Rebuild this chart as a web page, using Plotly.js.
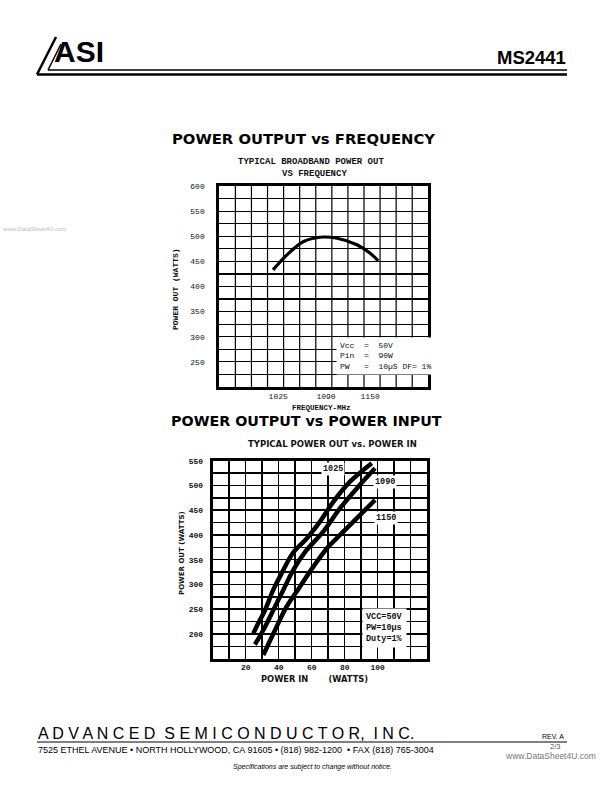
<!DOCTYPE html>
<html>
<head>
<meta charset="utf-8">
<script src="https://cdn.plot.ly/plotly-3.0.1.min.js"></script>
<style>body{margin:0;padding:0;background:#fff}#chart{width:612px;height:792px}</style>
</head>
<body>
<div id="chart"></div>
<script>
// ---- Chart 1: Typical broadband power out vs frequency ----
const freqMHz = [1018, 1037, 1059, 1082, 1105, 1132, 1150, 1161];
const powerOutVsFreq = [433, 463, 489, 498, 496, 483, 466, 451];
const freqTicks = [1025, 1090, 1150];
const freqPowerTicks = [250, 300, 350, 400, 450, 500, 550, 600];

// ---- Chart 2: Typical power out vs power in ----
const pin1025 = [24.6, 27.6, 31.7, 36.7, 41.8, 48.8, 57, 65, 73.1, 83.2, 96.4];
const pout1025 = [201, 221.5, 248, 289, 322.5, 364.5, 393, 427, 467, 507.6, 545];
const pin1090 = [25.6, 30.7, 36.7, 42.8, 48.8, 56.5, 67, 77.2, 87.3, 98.4];
const pout1090 = [178.7, 208, 248, 289, 329, 367.6, 406.6, 454, 494, 534.6];
const pin1150 = [30.7, 37.8, 44.8, 52.9, 61, 69.9, 77.2, 87.3, 98.4];
const pout1150 = [157.5, 208, 255, 295.5, 336, 375.7, 400, 433.6, 470.6];
const pinTicks = [20, 40, 60, 80, 100];
const pinPowerTicks = [200, 250, 300, 350, 400, 450, 500, 550];
const seriesLabels = ['1025', '1090', '1150'];

const W = 612, H = 792;
const px = x => x / W;
const py = y => 1 - y / H;

const mono = 'Liberation Mono, Courier New, monospace';
const sans = 'Liberation Sans, Arial, sans-serif';
const dejavu = 'DejaVu Sans, sans-serif';

const traces = [
  {x: freqMHz, y: powerOutVsFreq, xaxis: 'x', yaxis: 'y', mode: 'lines',
   line: {color: '#000', width: 3.2, shape: 'spline'}, hoverinfo: 'skip'},
  {x: pin1025, y: pout1025, xaxis: 'x2', yaxis: 'y2', mode: 'lines', name: seriesLabels[0],
   line: {color: '#000', width: 4.5, shape: 'spline'}},
  {x: pin1090, y: pout1090, xaxis: 'x2', yaxis: 'y2', mode: 'lines', name: seriesLabels[1],
   line: {color: '#000', width: 4.5, shape: 'spline'}},
  {x: pin1150, y: pout1150, xaxis: 'x2', yaxis: 'y2', mode: 'lines', name: seriesLabels[2],
   line: {color: '#000', width: 4.5, shape: 'spline'}}
];

const topX0 = 945, topX1 = 1229, topCols = 13;
const axBase = {
  showline: true, mirror: true, linecolor: '#000', linewidth: 3,
  ticks: '', zeroline: false, gridcolor: '#000', gridwidth: 1.2,
  fixedrange: true
};

// vertical grid of the frequency chart: 13 evenly spaced columns (grid, not data)
const freqGrid = [];
for (let i = 1; i < topCols; i++) {
  const gx = topX0 + i * (topX1 - topX0) / topCols;
  freqGrid.push({type: 'line', xref: 'x', yref: 'y domain', x0: gx, x1: gx, y0: 0, y1: 1,
                 layer: 'below', line: {color: '#000', width: 1.2}});
}

const layout = {
  width: W, height: H, autosize: false,
  margin: {l: 0, r: 0, t: 0, b: 0},
  paper_bgcolor: '#fff', plot_bgcolor: '#fff',
  showlegend: false,
  xaxis: Object.assign({}, axBase, {
    domain: [px(219.3), px(428.3)], range: [topX0, topX1], anchor: 'y',
    tickmode: 'array', tickvals: freqTicks, ticktext: freqTicks.map(String),
    showgrid: false, ticklabelstandoff: -1,
    tickfont: {family: mono, size: 8, color: '#111'}
  }),
  yaxis: Object.assign({}, axBase, {
    domain: [py(387), py(186)], range: [200, 600], anchor: 'x',
    tickmode: 'array', tickvals: freqPowerTicks, ticktext: freqPowerTicks.map(String),
    showgrid: true, ticklabelstandoff: 10,
    tickfont: {family: mono, size: 8, color: '#111'},
    minor: {tick0: 200, dtick: 25, showgrid: true, gridcolor: '#000', gridwidth: 1.2, ticklen: 0}
  }),
  xaxis2: Object.assign({}, axBase, {
    domain: [px(212.7), px(427.2)], range: [0, 130], anchor: 'y2',
    tickmode: 'array', tickvals: pinTicks, ticktext: pinTicks.map(String),
    showgrid: true, gridwidth: 1.5, ticklabelstandoff: -1,
    tickfont: {family: mono, size: 8, color: '#111', weight: 'bold'},
    minor: {tick0: 0, dtick: 10, showgrid: true, gridcolor: '#000', gridwidth: 1.5, ticklen: 0}
  }),
  yaxis2: Object.assign({}, axBase, {
    domain: [py(658.7), py(460.7)], range: [150, 550], anchor: 'x2',
    tickmode: 'array', tickvals: pinPowerTicks, ticktext: pinPowerTicks.map(String),
    showgrid: true, gridwidth: 1.5, ticklabelstandoff: 5,
    tickfont: {family: mono, size: 8, color: '#111', weight: 'bold'},
    minor: {tick0: 150, dtick: 25, showgrid: true, gridcolor: '#000', gridwidth: 1.5, ticklen: 0}
  }),
  shapes: freqGrid.concat([
    // header rules
    {type: 'line', xref: 'paper', yref: 'paper', x0: px(48), x1: px(567), y0: py(70), y1: py(70), line: {color: '#000', width: 1.5}},
    {type: 'line', xref: 'paper', yref: 'paper', x0: px(37), x1: px(567), y0: py(74.5), y1: py(74.5), line: {color: '#000', width: 2.5}},
    {type: 'line', xref: 'paper', yref: 'paper', x0: px(37), x1: px(56), y0: py(74.5), y1: py(37), line: {color: '#000', width: 2.5}},
    {type: 'line', xref: 'paper', yref: 'paper', x0: px(48), x1: px(61), y0: py(70), y1: py(44), line: {color: '#000', width: 1.5}},
    // footer rule
    {type: 'line', xref: 'paper', yref: 'paper', x0: px(37), x1: px(567), y0: py(742), y1: py(742), line: {color: '#000', width: 1}}
  ]),
  annotations: [
    // header
    {xref: 'paper', yref: 'paper', x: px(52), y: py(51), xanchor: 'left', yanchor: 'middle', showarrow: false,
     text: '<b>ASI</b>', font: {family: sans, size: 30, color: '#000'}},
    {xref: 'paper', yref: 'paper', x: px(568), y: py(58), xanchor: 'right', yanchor: 'middle', showarrow: false,
     text: '<b>MS2441</b>', font: {family: sans, size: 18.5, color: '#000'}},
    {xref: 'paper', yref: 'paper', x: px(0), y: py(229), xanchor: 'left', yanchor: 'middle', showarrow: false,
     text: 'www.DataSheet4U.com', font: {family: sans, size: 6, color: '#bbb'}},
    // chart 1 titles
    {xref: 'paper', yref: 'paper', x: px(303), y: py(138), xanchor: 'center', yanchor: 'middle', showarrow: false,
     text: '<b>POWER OUTPUT vs FREQUENCY</b>', font: {family: dejavu, size: 14.8, color: '#000'}},
    {xref: 'paper', yref: 'paper', x: px(311), y: py(162), xanchor: 'center', yanchor: 'middle', showarrow: false,
     text: '<b>TYPICAL BROADBAND POWER OUT</b>', font: {family: mono, size: 9, color: '#111'}},
    {xref: 'paper', yref: 'paper', x: px(314), y: py(174), xanchor: 'center', yanchor: 'middle', showarrow: false,
     text: '<b>VS FREQUENCY</b>', font: {family: mono, size: 9, color: '#111'}},
    {xref: 'paper', yref: 'paper', x: px(176), y: py(289), xanchor: 'center', yanchor: 'middle', showarrow: false, textangle: -90,
     text: '<b>POWER OUT (WATTS)</b>', font: {family: mono, size: 8, color: '#111'}},
    {xref: 'paper', yref: 'paper', x: px(321), y: py(408), xanchor: 'center', yanchor: 'middle', showarrow: false,
     text: '<b>FREQUENCY-MHz</b>', font: {family: mono, size: 7.5, color: '#111'}},
    {xref: 'x', yref: 'y', x: 1104, y: 299, xanchor: 'left', yanchor: 'top', showarrow: false, align: 'left',
     bgcolor: '#fff', borderpad: 3,
     text: 'Vcc  =  50V<br>Pin  =  90W<br>PW   =  10\u00b5S DF= 1%', font: {family: mono, size: 8, color: '#111'}},
    // chart 2 titles
    {xref: 'paper', yref: 'paper', x: px(306), y: py(421), xanchor: 'center', yanchor: 'middle', showarrow: false,
     text: '<b>POWER OUTPUT vs POWER INPUT</b>', font: {family: dejavu, size: 14.3, color: '#000'}},
    {xref: 'paper', yref: 'paper', x: px(332), y: py(444), xanchor: 'center', yanchor: 'middle', showarrow: false,
     text: '<b>TYPICAL POWER OUT vs. POWER IN</b>', font: {family: dejavu, size: 8.5, color: '#111'}},
    {xref: 'paper', yref: 'paper', x: px(182), y: py(553), xanchor: 'center', yanchor: 'middle', showarrow: false, textangle: -90,
     text: '<b>POWER OUT (WATTS)</b>', font: {family: dejavu, size: 7, color: '#111'}},
    {xref: 'paper', yref: 'paper', x: px(315), y: py(679), xanchor: 'center', yanchor: 'middle', showarrow: false,
     text: '<b>POWER IN&nbsp;&nbsp;&nbsp;&nbsp;&nbsp;&nbsp;&nbsp;(WATTS)</b>', font: {family: dejavu, size: 8.3, color: '#111'}},
    {xref: 'x2', yref: 'y2', x: 73, y: 533, xanchor: 'center', yanchor: 'middle', showarrow: false, bgcolor: '#fff', borderpad: 1,
     text: '<b>' + seriesLabels[0] + '</b>', font: {family: mono, size: 8.5, color: '#111'}},
    {xref: 'x2', yref: 'y2', x: 104.5, y: 506, xanchor: 'center', yanchor: 'middle', showarrow: false, bgcolor: '#fff', borderpad: 1,
     text: '<b>' + seriesLabels[1] + '</b>', font: {family: mono, size: 8.5, color: '#111'}},
    {xref: 'x2', yref: 'y2', x: 105, y: 435, xanchor: 'center', yanchor: 'middle', showarrow: false, bgcolor: '#fff', borderpad: 1,
     text: '<b>' + seriesLabels[2] + '</b>', font: {family: mono, size: 8.5, color: '#111'}},
    {xref: 'x2', yref: 'y2', x: 90.5, y: 212, xanchor: 'left', yanchor: 'middle', showarrow: false, align: 'left',
     bgcolor: '#fff', borderpad: 3,
     text: '<b>VCC=50V<br>PW=10\u00b5s<br>Duty=1%</b>', font: {family: mono, size: 8.5, color: '#111'}},
    // footer
    {xref: 'paper', yref: 'paper', x: px(36), y: py(733), xanchor: 'left', yanchor: 'middle', showarrow: false,
     text: 'A D V A N C E D&nbsp;&nbsp;S E M I C O N D U C T O R,&nbsp;&nbsp;I N C.', font: {family: sans, size: 16, color: '#000'}},
    {xref: 'paper', yref: 'paper', x: px(566), y: py(736), xanchor: 'right', yanchor: 'middle', showarrow: false,
     text: 'REV. A', font: {family: sans, size: 7, color: '#000'}},
    {xref: 'paper', yref: 'paper', x: px(36), y: py(750), xanchor: 'left', yanchor: 'middle', showarrow: false,
     text: '7525 ETHEL AVENUE \u2022 NORTH HOLLYWOOD, CA 91605 \u2022 (818) 982-1200&nbsp;&nbsp;\u2022 FAX (818) 765-3004', font: {family: sans, size: 9, color: '#000'}},
    {xref: 'paper', yref: 'paper', x: px(555), y: py(746), xanchor: 'center', yanchor: 'middle', showarrow: false,
     text: '2/3', font: {family: sans, size: 7.5, color: '#555'}},
    {xref: 'paper', yref: 'paper', x: px(550), y: py(756), xanchor: 'center', yanchor: 'middle', showarrow: false,
     text: 'www.DataSheet4U.com', font: {family: sans, size: 8.5, color: '#777'}},
    {xref: 'paper', yref: 'paper', x: px(312), y: py(767), xanchor: 'center', yanchor: 'middle', showarrow: false,
     text: '<i>Specifications are subject to change without notice.</i>', font: {family: sans, size: 7, color: '#000'}}
  ]
};

Plotly.newPlot('chart', traces, layout, {staticPlot: true, displayModeBar: false});
</script>
</body>
</html>
